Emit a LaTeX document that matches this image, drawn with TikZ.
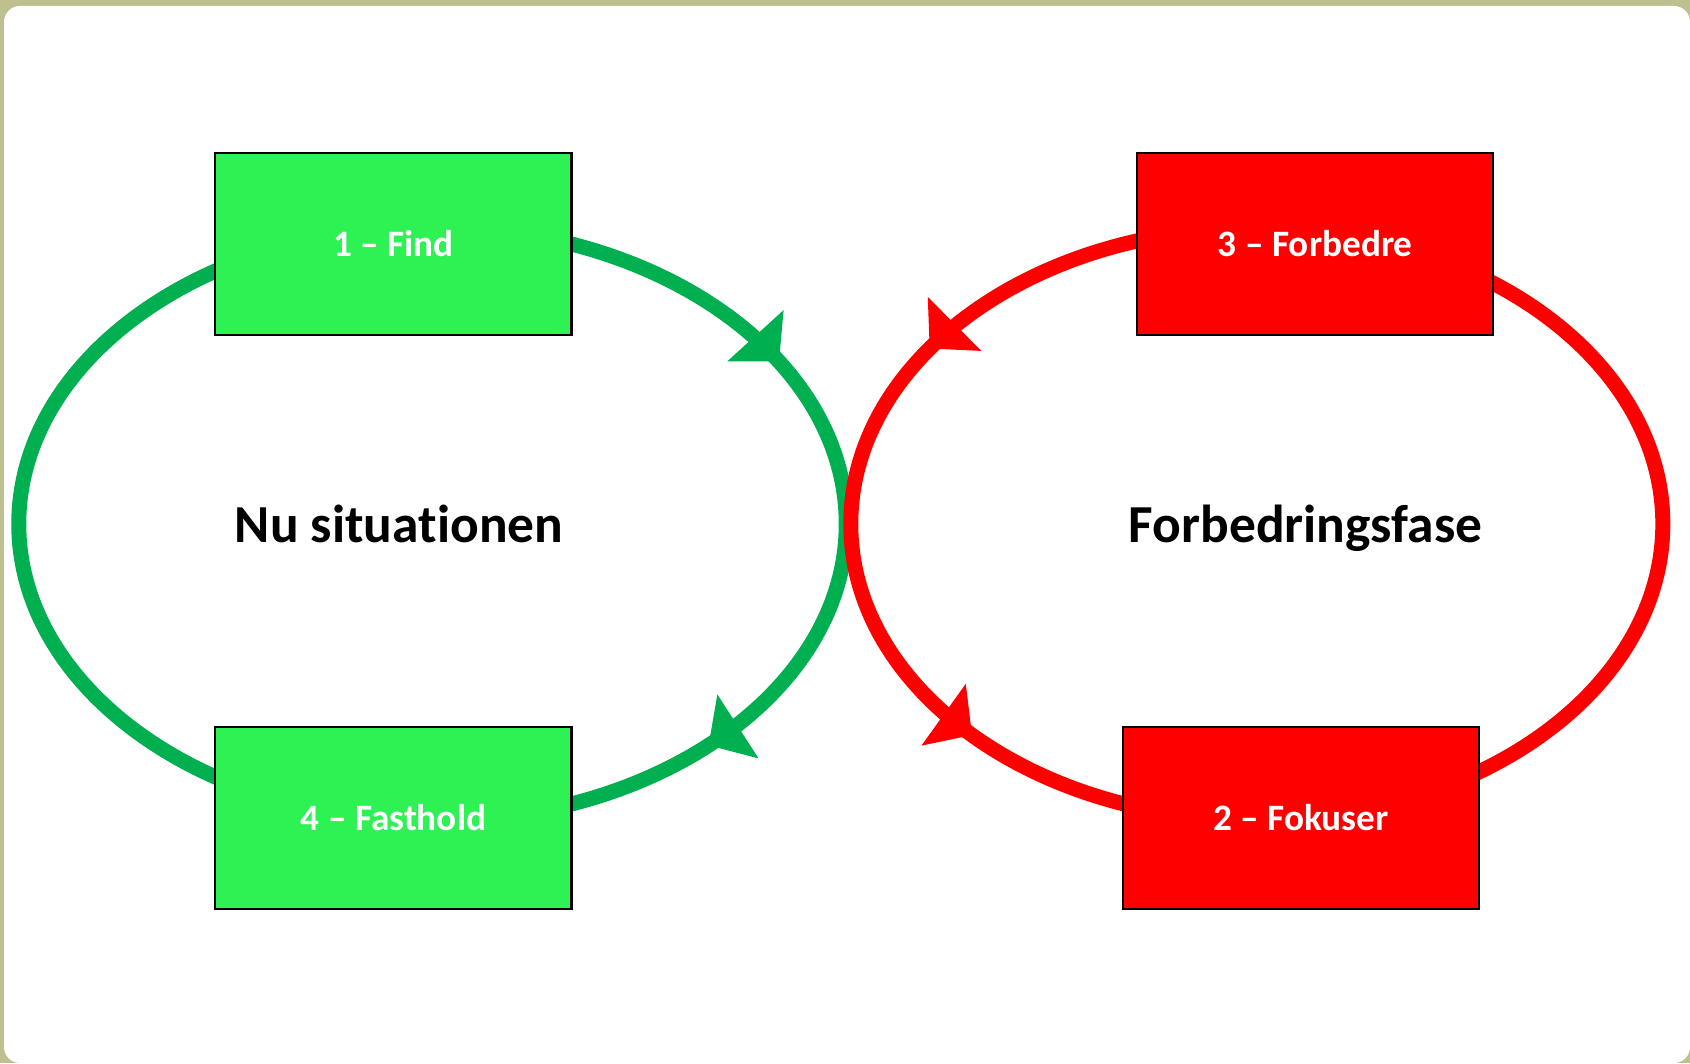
\documentclass[tikz,border=0pt]{standalone}
\usepackage{fontspec}
\setmainfont{Carlito}[Ligatures={TeX,NoCommon}]
\usetikzlibrary{arrows.meta,decorations.markings}

\definecolor{ramme}{HTML}{BEC08F}
\definecolor{ringgreen}{HTML}{00B050}
\definecolor{boxgreen}{HTML}{2EF254}
\definecolor{boxred}{HTML}{FF0000}

\begin{document}
\begin{tikzpicture}
      [x=0.01cm,y=0.01cm,every node/.style={font=\bfseries}]

      \tikzstyle{phase} = [draw=black, line width=0.6pt, text=white, minimum width=3.56cm, minimum height=1.82cm, font=\fontsize{10.6}{12}\selectfont\bfseries]
      \tikzstyle{greenbox} = [phase, fill=boxgreen]
      \tikzstyle{redbox} = [phase, fill=boxred]
      \tikzstyle{title} = [font=\fontsize{15.2}{18}\selectfont\bfseries]
      \tikzstyle{ring} = [line width=0.15cm, postaction={decorate}]

      % frame
      \fill[ramme] (0,0) rectangle (1690,1063);
      \fill[white, rounded corners=0.16cm] (4,0) rectangle (1690,1057);
      \useasboundingbox (0,0) rectangle (1690,1063);

      \coordinate (nu) at (432.5,539);
      \coordinate (fb) at (1256.8,539);

      % green loop, clockwise
      \draw[ring, ringgreen, decoration={markings,
            mark=at position 0.17 with {\arrow{Triangle[length=0.35cm,width=0.74cm]}},
            mark=at position 0.371 with {\arrow{Triangle[length=0.35cm,width=0.74cm]}}}]
            ([yshift=2.97cm]nu) arc[start angle=90, end angle=-270, x radius=4.135cm, y radius=2.97cm];

      % red loop, counterclockwise
      \draw[ring, boxred, decoration={markings,
            mark=at position 0.161 with {\arrow{Triangle[length=0.35cm,width=0.74cm]}},
            mark=at position 0.364 with {\arrow{Triangle[length=0.35cm,width=0.74cm]}}}]
            ([yshift=2.96cm]fb) arc[start angle=90, end angle=450, x radius=4.058cm, y radius=2.96cm];

      \node[greenbox] (find)     at (393.4,819) {1 -- Find};
      \node[greenbox] (fasthold) at (393.4,245) {4 -- Fasthold};
      \node[redbox]   (forbedre) at (1315.3,819) {3 -- Forbedre};
      \node[redbox]   (fokuser)  at (1300.9,245) {2 -- Fokuser};

      \node[title, anchor=base] (nusit) at (399,520) {Nu situationen};
      \node[title, anchor=base] (fbfase) at (1305.7,520) {Forbedringsfase};
    \end{tikzpicture}
\end{document}
